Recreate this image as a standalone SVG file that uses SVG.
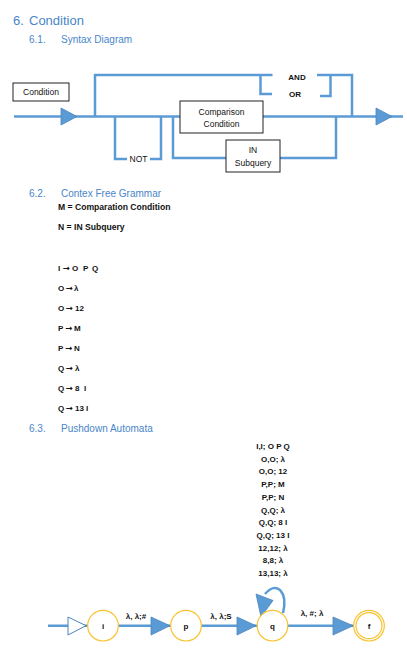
<svg xmlns="http://www.w3.org/2000/svg" width="407" height="651" viewBox="0 0 407 651">
<style>
.h1{font-family:"Liberation Sans",Arial,sans-serif;font-size:13px;fill:#4A86C8}
.h2{font-family:"Liberation Sans",Arial,sans-serif;font-size:10px;fill:#4A86C8}
.g{font-family:"Liberation Sans",Arial,sans-serif;font-size:8px;font-weight:bold;fill:#111}
.gm{font-size:8.6px}
.ar{font-family:"DejaVu Sans",sans-serif;font-size:8.5px;font-weight:bold}
.t{font-family:"Liberation Sans",Arial,sans-serif;font-size:8.5px;fill:#111}
.tb{font-family:"Liberation Sans",Arial,sans-serif;font-size:8px;font-weight:bold;fill:#111}
.ln{fill:none;stroke:#5B9BD5;stroke-width:2.5}
.box{fill:#fff;stroke:#222;stroke-width:1}
.arr{fill:#5B9BD5;stroke:#4A85BC;stroke-width:0.8}
.st{fill:#fff;stroke:#F9C22E;stroke-width:1.2}
</style>

<text class="h1" x="13" y="25">6.</text>
<text class="h1" x="29" y="25">Condition</text>
<text class="h2" x="29" y="43">6.1.</text>
<text class="h2" x="61" y="43">Syntax Diagram</text>

<!-- Syntax diagram connectors -->
<g id="syntax-connectors">
<path class="ln" d="M14 116.5 H403"/>
<path class="ln" d="M95 116.5 V75 H272.5"/>
<path class="ln" d="M260.5 75 V94 H272"/>
<path class="ln" d="M317 75 H352 V116.5"/>
<path class="ln" d="M320 96 H330.5 V75"/>
<path class="ln" d="M115 116.5 V159 H127"/>
<path class="ln" d="M150 159 H161 V116.5"/>
<path class="ln" d="M173 116.5 V158 H226"/>
<path class="ln" d="M280 158 H336 V116.5"/>
<polygon class="arr" points="61,108 77,116.5 61,125"/>
<polygon class="arr" points="376,108 392,116.5 376,125"/>
</g>
<g id="condition-label">
<rect class="box" x="13" y="83" width="56" height="18"/>
<text class="t" x="41" y="95" text-anchor="middle">Condition</text>
</g>
<g id="and-or">
<text class="tb" x="297" y="80" text-anchor="middle">AND</text>
<text class="tb" x="295" y="97" text-anchor="middle">OR</text>
</g>
<g id="not">
<text class="t" x="138.5" y="162" text-anchor="middle">NOT</text>
</g>
<g id="comparison">
<rect class="box" x="180" y="101" width="83" height="32"/>
<text class="t" x="221.5" y="114.5" text-anchor="middle">Comparison</text>
<text class="t" x="221.5" y="126.5" text-anchor="middle">Condition</text>
</g>
<g id="in-subquery">
<rect class="box" x="226" y="140" width="54" height="32"/>
<text class="t" x="253" y="153" text-anchor="middle">IN</text>
<text class="t" x="253" y="166" text-anchor="middle">Subquery</text>
</g>

<text class="h2" x="29" y="197">6.2.</text>
<text class="h2" x="61" y="197">Contex Free Grammar</text>
<g id="grammar">
<text class="g gm" x="58" y="210">M = Comparation Condition</text>
<text class="g gm" x="58" y="230">N = IN Subquery</text>
<text class="g" y="270.5"><tspan x="58">I</tspan><tspan class="ar" x="62.5">→</tspan><tspan x="72">O</tspan><tspan x="83">P</tspan><tspan x="92">Q</tspan></text>
<text class="g" y="290.5"><tspan x="58">O</tspan><tspan class="ar" x="65.5">→</tspan><tspan x="74">λ</tspan></text>
<text class="g" y="310.5"><tspan x="58">O</tspan><tspan class="ar" x="65.5">→</tspan><tspan x="75">12</tspan></text>
<text class="g" y="330.5"><tspan x="58">P</tspan><tspan class="ar" x="65">→</tspan><tspan x="74">M</tspan></text>
<text class="g" y="350.5"><tspan x="58">P</tspan><tspan class="ar" x="65">→</tspan><tspan x="74">N</tspan></text>
<text class="g" y="370.5"><tspan x="58">Q</tspan><tspan class="ar" x="65.5">→</tspan><tspan x="75">λ</tspan></text>
<text class="g" y="390.5"><tspan x="58">Q</tspan><tspan class="ar" x="65.5">→</tspan><tspan x="75">8</tspan><tspan x="84">I</tspan></text>
<text class="g" y="410.5"><tspan x="58">Q</tspan><tspan class="ar" x="65.5">→</tspan><tspan x="75">13 I</tspan></text>
</g>
<text class="h2" x="29" y="432">6.3.</text>
<text class="h2" x="61" y="432">Pushdown Automata</text>

<g id="loop-label" text-anchor="middle">
<text class="g" x="273" y="449">I,I; O P Q</text>
<text class="g" x="273" y="461.7">O,O; λ</text>
<text class="g" x="273" y="474.4">O,O; 12</text>
<text class="g" x="273" y="487.1">P,P; M</text>
<text class="g" x="273" y="499.8">P,P; N</text>
<text class="g" x="273" y="512.5">Q,Q; λ</text>
<text class="g" x="273" y="525.2">Q,Q; 8 I</text>
<text class="g" x="273" y="537.9">Q,Q; 13 I</text>
<text class="g" x="273" y="550.6">12,12; λ</text>
<text class="g" x="273" y="563.3">8,8; λ</text>
<text class="g" x="273" y="576">13,13; λ</text>
</g>

<!-- Automaton connectors -->
<g id="pda-connectors">
<path class="ln" d="M48 625.7 H354"/>
<polygon points="68,617 86,625.7 68,635" fill="#fff" stroke="#4A85BC" stroke-width="1"/>
<polygon class="arr" points="151,617 170,625.7 151,635"/>
<polygon class="arr" points="237,617 256,625.7 237,635"/>
<polygon class="arr" points="333,617 353,625.7 333,635"/>
<path class="ln" d="M283 613 C288 592 277 580 265 594"/>
<polygon class="arr" points="256,594 273,600.5 261,617"/>
<text class="tb" x="136" y="619" text-anchor="middle">λ, λ;#</text>
<text class="tb" x="221" y="619" text-anchor="middle">λ, λ;S</text>
<text class="tb" x="312" y="616" text-anchor="middle">λ, #; λ</text>
</g>
<g id="state-i">
<circle class="st" cx="103" cy="625.7" r="15.3"/>
<text class="tb" x="103" y="628.5" text-anchor="middle">i</text>
</g>
<g id="state-p">
<circle class="st" cx="186" cy="625.7" r="15.3"/>
<text class="tb" x="186" y="628.5" text-anchor="middle">p</text>
</g>
<g id="state-q">
<circle class="st" cx="272.5" cy="625.7" r="15.3"/>
<text class="tb" x="272.5" y="628.5" text-anchor="middle">q</text>
</g>
<g id="state-f">
<circle class="st" cx="369" cy="625.7" r="15.3"/>
<circle class="st" cx="369" cy="625.7" r="13"/>
<text class="tb" x="369" y="628.5" text-anchor="middle">f</text>
</g>
</svg>
